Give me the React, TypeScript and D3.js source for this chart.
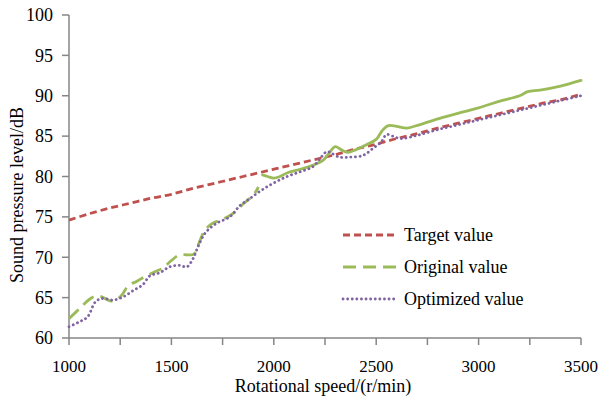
import React from "react";
import * as d3 from "d3";

const xTicks = [1000, 1500, 2000, 2500, 3000, 3500];
const xMinorTicks = [1000, 1250, 1500, 1750, 2000, 2250, 2500, 2750, 3000, 3250, 3500];
const yTicks = [60, 65, 70, 75, 80, 85, 90, 95, 100];

const targetRpm = [1000, 1100, 1200, 1300, 1400, 1500, 1600, 1700, 1800, 1900, 2000, 2100, 2200, 2300, 2400, 2500, 2600, 2700, 2800, 2900, 3000, 3100, 3200, 3300, 3400, 3500];
const targetVal = [74.6, 75.4, 76.1, 76.7, 77.3, 77.8, 78.5, 79.1, 79.7, 80.3, 80.9, 81.5, 82.1, 82.7, 83.4, 84.0, 84.7, 85.3, 86.0, 86.6, 87.2, 87.8, 88.4, 89.0, 89.5, 90.2];

const originalARpm = [1000, 1050, 1100, 1130, 1160, 1200, 1230, 1260, 1290, 1330, 1370, 1420, 1460, 1500, 1540, 1580, 1610, 1635, 1665, 1700, 1750, 1800, 1850, 1900, 1925];
const originalAVal = [62.4, 63.6, 64.8, 65.2, 65.1, 64.6, 64.7, 65.4, 66.5, 67.0, 67.6, 68.2, 68.7, 69.6, 70.3, 70.3, 70.4, 71.8, 73.4, 74.2, 74.7, 75.4, 76.6, 77.7, 78.7];

const originalBRpm = [1945, 1970, 2000, 2030, 2070, 2130, 2190, 2240, 2270, 2300, 2330, 2360, 2400, 2450, 2500, 2530, 2560, 2600, 2650, 2710, 2810, 2910, 3000, 3100, 3200, 3240, 3300, 3400, 3500];
const originalBVal = [80.2, 80.0, 79.8, 80.0, 80.5, 80.9, 81.4, 82.0, 82.9, 83.7, 83.3, 83.0, 83.3, 83.9, 84.6, 85.7, 86.3, 86.2, 86.0, 86.4, 87.2, 87.9, 88.5, 89.3, 90.0, 90.5, 90.7, 91.2, 91.9];

const optimizedRpm = [1000, 1050, 1090, 1130, 1165, 1215, 1265, 1315, 1360, 1395, 1445, 1490, 1540, 1575, 1605, 1630, 1665, 1720, 1785, 1835, 1885, 1940, 2000, 2065, 2130, 2190, 2225, 2260, 2280, 2320, 2370, 2435, 2485, 2525, 2550, 2580, 2620, 2700, 2800, 2900, 3000, 3100, 3200, 3300, 3400, 3500];
const optimizedVal = [61.4, 62.0, 62.6, 64.5, 64.9, 64.7, 65.1, 65.9, 66.6, 67.7, 68.1, 68.8, 69.0, 68.8, 69.8, 71.3, 73.0, 74.2, 75.0, 76.4, 77.3, 78.3, 79.2, 80.0, 80.6, 81.2, 82.2, 83.1, 82.9, 82.4, 82.4, 82.6, 83.5, 84.3, 85.2, 85.0, 84.7, 85.1, 85.8, 86.4, 87.0, 87.6, 88.2, 88.8, 89.4, 90.0];

const legendLabels = ["Target value", "Original value", "Optimized value"];

const RED = "#C0504D";
const GREEN = "#9BBB59";
const PURPLE = "#8064A2";
const AXIS = "#868686";
const FONT = "'Liberation Serif', 'Times New Roman', serif";

export default function App() {
  const x = d3.scaleLinear().domain([1000, 3500]).range([69, 581]);
  const y = d3.scaleLinear().domain([60, 100]).range([338, 15]);

  const line = d3
    .line<[number, number]>()
    .x((d) => x(d[0]))
    .y((d) => y(d[1]))
    .curve(d3.curveCatmullRom.alpha(0.5));

  const zip = (a: number[], b: number[]) => a.map((v, i) => [v, b[i]] as [number, number]);

  const series = [
    { d: zip(targetRpm, targetVal), color: RED, dash: "7,4", cap: "butt" },
    { d: zip(originalARpm, originalAVal), color: GREEN, dash: "13,7", cap: "butt" },
    { d: zip(originalBRpm, originalBVal), color: GREEN, dash: "none", cap: "round" },
    { d: zip(optimizedRpm, optimizedVal), color: PURPLE, dash: "0.1,4.5", cap: "round" },
  ];

  const legendStyles = [
    { color: RED, dash: "7,4", cap: "butt" },
    { color: GREEN, dash: "13,7", cap: "butt" },
    { color: PURPLE, dash: "0.1,4.5", cap: "round" },
  ];

  return (
    <svg
      width={602}
      height={397}
      style={{ position: "absolute", left: 0, top: 0, background: "#fff" }}
      fontFamily={FONT}
    >
      <rect x={0} y={0} width={602} height={397} fill="#fff" />
      {/* axes */}
      <line x1={x(1000)} x2={x(1000)} y1={y(100)} y2={y(60)} stroke={AXIS} strokeWidth={1.5} />
      <line x1={x(1000)} x2={x(3500)} y1={y(60)} y2={y(60)} stroke={AXIS} strokeWidth={1.5} />
      {yTicks.map((t) => (
        <g key={"y" + t}>
          <line x1={x(1000) - 7} x2={x(1000)} y1={y(t)} y2={y(t)} stroke={AXIS} strokeWidth={1.5} />
          <text x={53} y={y(t)} dy="0.35em" textAnchor="end" fontSize={18} fill="#000">
            {t}
          </text>
        </g>
      ))}
      {xMinorTicks.map((t) => (
        <line key={"xm" + t} x1={x(t)} x2={x(t)} y1={y(60)} y2={y(60) + 7} stroke={AXIS} strokeWidth={1.5} />
      ))}
      {xTicks.map((t) => (
        <text key={"x" + t} x={x(t)} y={372} textAnchor="middle" fontSize={17} fill="#000">
          {t}
        </text>
      ))}
      <text x={323} y={392} textAnchor="middle" fontSize={18} fill="#000">
        Rotational speed/(r/min)
      </text>
      <text
        transform={`translate(23,195) rotate(-90)`}
        textAnchor="middle"
        fontSize={18}
        fill="#000"
      >
        Sound pressure level/dB
      </text>

      {/* series */}
      {series.map((s, i) => (
        <path
          key={i}
          d={line(s.d) || ""}
          fill="none"
          stroke={s.color}
          strokeWidth={2.8}
          strokeDasharray={s.dash}
          strokeLinecap={s.cap as any}
        />
      ))}

      {/* legend */}
      {legendLabels.map((lab, i) => (
        <g key={lab} transform={`translate(0,${235 + i * 32})`}>
          <line
            x1={343}
            x2={398}
            y1={0}
            y2={0}
            stroke={legendStyles[i].color}
            strokeWidth={2.8}
            strokeDasharray={legendStyles[i].dash}
            strokeLinecap={legendStyles[i].cap as any}
          />
          <text x={404} y={0} dy="0.35em" fontSize={18} fill="#000">
            {lab}
          </text>
        </g>
      ))}
    </svg>
  );
}
